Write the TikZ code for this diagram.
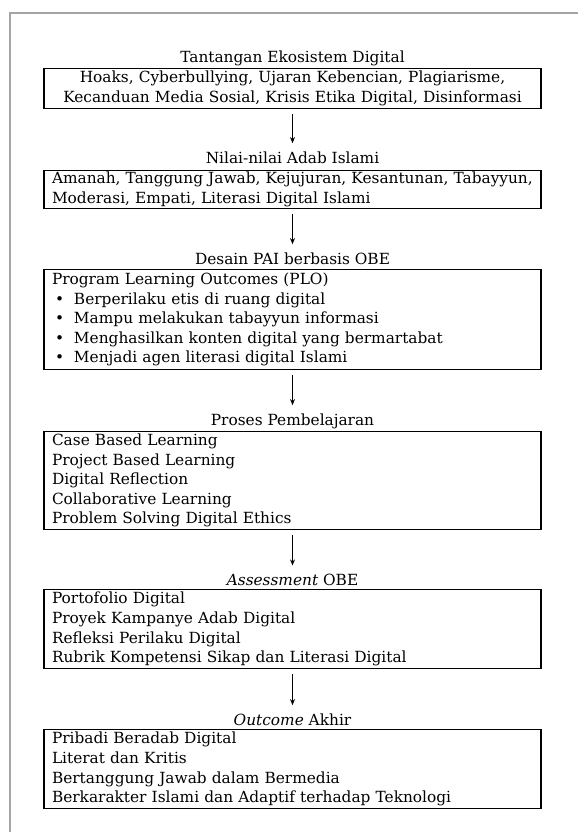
\documentclass[tikz,border=0pt]{standalone}
\usepackage{fontspec}
\setmainfont{DejaVu Serif}
\usetikzlibrary{arrows.meta}
\newlength\reflen
\definecolor{framec}{RGB}{165,165,165}
\begin{document}
\settowidth\reflen{\fontsize{10pt}{12pt}\selectfont Kecanduan Media Sosial, Krisis Etika Digital, Disinformasi}%
\pgfmathsetmacro\fsz{10*457/\reflen}%
\newcommand\bodyfont{\fontsize{\fsz pt}{19.6pt}\selectfont}%
\tikzset{
  ttl/.style={anchor=base, inner sep=0pt, font=\bodyfont},
  box/.style={draw=black, line width=1.2pt, rectangle, anchor=north,
    inner xsep=8pt, inner ysep=0pt, text width=481pt, font=\bodyfont},
  arr/.style={line width=1pt, -{Stealth[length=6pt,width=5pt]}},
}%
\begin{tikzpicture}[x=1pt,y=1pt]
\useasboundingbox (0,0) rectangle (578,-832);
\draw[framec, line width=1.5pt] (10,-832) -- (10,-13) -- (578,-13);

\node[ttl] (t1) at (292.5,-63) {Tantangan Ekosistem Digital};
\node[box, minimum height=40pt, align=center] (b1) at (292.5,-68)
  {\mbox{Hoaks, Cyberbullying, Ujaran Kebencian, Plagiarisme,}\\
   \mbox{Kecanduan Media Sosial, Krisis Etika Digital, Disinformasi}};

\node[ttl] (t2) at (292.5,-163) {Nilai-nilai Adab Islami};
\node[box, minimum height=38pt, align=left] (b2) at (292.5,-170)
  {\mbox{Amanah, Tanggung Jawab, Kejujuran, Kesantunan, Tabayyun,}\\
   \mbox{Moderasi, Empati, Literasi Digital Islami}};

\node[ttl] (t3) at (292.5,-264) {Desain PAI berbasis OBE};
\node[box, minimum height=100pt, align=left] (b3) at (292.5,-269)
  {Program Learning Outcomes (PLO)\\
   \hspace*{3pt}\makebox[19pt][l]{\textbullet}Berperilaku etis di ruang digital\\
   \hspace*{3pt}\makebox[19pt][l]{\textbullet}Mampu melakukan tabayyun informasi\\
   \hspace*{3pt}\makebox[19pt][l]{\textbullet}Menghasilkan konten digital yang bermartabat\\
   \hspace*{3pt}\makebox[19pt][l]{\textbullet}Menjadi agen literasi digital Islami};

\node[ttl] (t4) at (292.5,-425) {Proses Pembelajaran};
\node[box, minimum height=98pt, align=left] (b4) at (292.5,-431)
  {Case Based Learning\\
   Project Based Learning\\
   Digital Reflection\\
   Collaborative Learning\\
   Problem Solving Digital Ethics};

\node[ttl] (t5) at (292.5,-585) {\textit{Assessment} OBE};
\node[box, minimum height=79pt, align=left] (b5) at (292.5,-589)
  {Portofolio Digital\\
   Proyek Kampanye Adab Digital\\
   Refleksi Perilaku Digital\\
   Rubrik Kompetensi Sikap dan Literasi Digital};

\node[ttl] (t6) at (292.5,-725) {\textit{Outcome} Akhir};
\node[box, minimum height=79pt, align=left] (b6) at (292.5,-729)
  {Pribadi Beradab Digital\\
   Literat dan Kritis\\
   Bertanggung Jawab dalam Bermedia\\
   Berkarakter Islami dan Adaptif terhadap Teknologi};

\draw[arr] ([yshift=-5pt]b1.south) -- ([yshift=8pt]t2.north);
\draw[arr] ([yshift=-5pt]b2.south) -- ([yshift=8pt]t3.north);
\draw[arr] ([yshift=-5pt]b3.south) -- ([yshift=8pt]t4.north);
\draw[arr] ([yshift=-5pt]b4.south) -- ([yshift=8pt]t5.north);
\draw[arr] ([yshift=-5pt]b5.south) -- ([yshift=8pt]t6.north);
\end{tikzpicture}
\end{document}
